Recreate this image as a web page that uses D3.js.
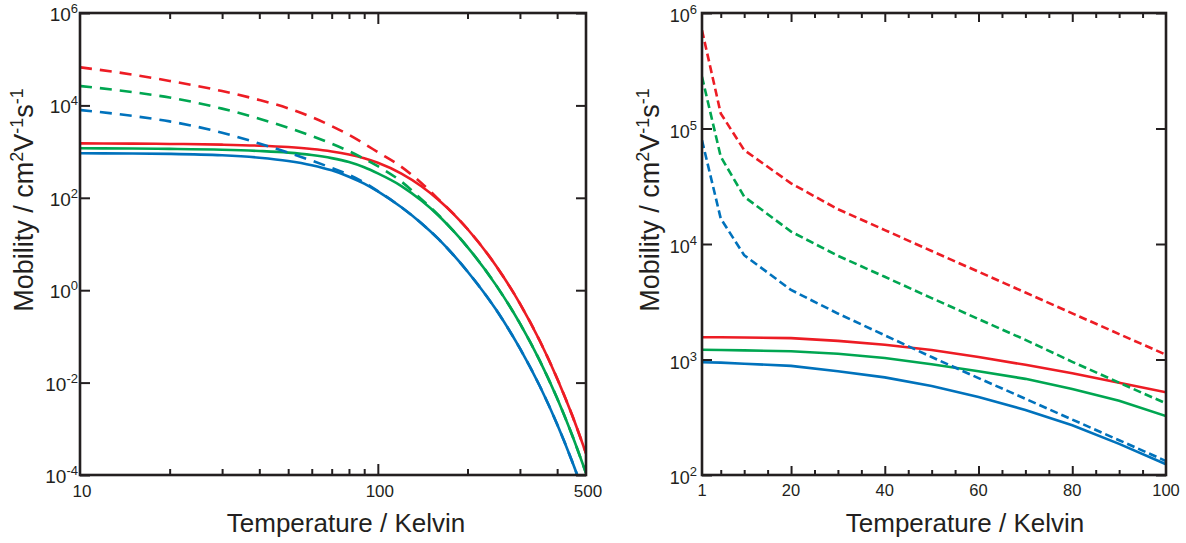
<!DOCTYPE html>
<html><head><meta charset="utf-8">
<script src="https://cdn.jsdelivr.net/npm/d3@7"></script>
<style>
body{margin:0;background:#fff}
svg{display:block}
text{font-family:"Liberation Sans",Arial,Helvetica,sans-serif;fill:#231f20}
</style>
</head><body>
<svg id="c" width="1186" height="543"></svg>
<script>
// ---------- Left panel data (log-log, 10–500 K) ----------
const leftT = [10,15,20,30,40,50,60,70,80,90,100,120,140,160,180,200,250,300,350,400,450,500];
const leftRedSolid   = [1507,1489,1466,1413,1343,1253,1140,1009,865,716,573,334,178,89.7,43.9,21.1,3.30,0.513,0.0794,0.0123,0.00191,0.000295];
const leftGreenSolid = [1183,1164,1143,1096,1030,951,845,723,592,457,337,179.5,87.1,41.0,18.7,8.59,1.256,0.1905,0.0295,0.00457,0.000708,0.000110];
const leftBlueSolid  = [918,908,893,832,738,628,509,393,286,202,137,62.2,28.2,12.7,5.65,2.54,0.371,0.0550,0.00832,0.00126,0.000191,0.0000295];
const leftRedDashed   = [66800,46500,33900,20400,13100,8650,5580,3570,2300,1480,970,468,209,92.3,44.2,21.1,3.30,0.513,0.0794,0.0123,0.00191,0.000295];
const leftGreenDashed = [26300,19400,14800,8510,5140,3290,2180,1480,1020,700,483,224,93.3,42.2,18.7,8.59,1.256,0.1905,0.0295,0.00457,0.000708,0.000110];
const leftBlueDashed  = [7940,5930,4510,2560,1500,951,637,444,316,214,140,62.2,28.2,12.7,5.65,2.54,0.371,0.0550,0.00832,0.00126,0.000191,0.0000295];

// ---------- Right panel data (lin-log, 1–100 K) ----------
const rightT = [1,5,10,20,30,40,50,60,70,80,90,100];
const rightRedDashed   = [710000,135000,65000,33500,20000,13200,8700,5750,3800,2510,1660,1100];
const rightGreenDashed = [280000,57000,25700,12800,7900,5200,3400,2240,1480,955,630,417];
const rightBlueDashed  = [79000,16600,8000,4000,2500,1620,1050,690,457,302,200,132];
const rightRedSolid   = [1560,1560,1550,1530,1450,1340,1210,1050,900,760,630,520];
const rightGreenSolid = [1215,1210,1200,1180,1120,1030,910,790,680,556,440,324];
const rightBlueSolid  = [946,940,920,880,790,700,590,473,366,270,186,124];

// ---------- Tick definitions ----------
const leftXLabels = [10,100,500];
const leftXMajor = [100];
const leftXMinor = [20,30,40,50,60,70,80,90,200,300,400];
const leftYTicks = [1e-4,1e-2,1,1e2,1e4,1e6];
const leftYExp = ["-4","-2","0","2","4","6"];
const rightXLabels = [1,20,40,60,80,100];
const rightXMajor = [20,40,60,80];
const rightXMinor = [5,10,15,25,30,35,45,50,55,65,70,75,85,90,95];
const rightYTicks = [1e2,1e3,1e4,1e5,1e6];
const rightYExp = ["2","3","4","5","6"];

const ink = "#231f20";
const RED = "#ed1c24", GREEN = "#00a651", BLUE = "#0072bc";
const svg = d3.select("#c");

function zip(ts, vs){ return ts.map((t,i)=>({t:t, v:vs[i]})); }

function drawPanel(o){
  const g = svg.append("g");
  const x = o.x, y = o.y;
  const [x0,x1] = x.range(); const [y1,y0] = y.range();
  const cid = "clip"+o.id;
  svg.append("defs").append("clipPath").attr("id",cid)
    .append("rect").attr("x",x0).attr("y",y0).attr("width",x1-x0).attr("height",y1-y0);

  const line = d3.line().x(d=>x(d.t)).y(d=>y(d.v)).curve(o.curve);
  const lg = g.append("g").attr("clip-path",`url(#${cid})`);
  o.series.forEach(s=>{
    lg.append("path").datum(zip(o.T, s.vals))
      .attr("d",line).attr("fill","none").attr("stroke",s.color)
      .attr("stroke-width",2.6)
      .attr("stroke-dasharray", s.dash ? o.dash : null);
  });

  function ax(gen, tr, vals, size){
    const a = g.append("g").attr("transform",tr)
      .call(gen.tickValues(vals).tickSize(size).tickFormat(""));
    a.select(".domain").remove();
    a.selectAll("line").attr("stroke",ink).attr("stroke-width",2);
  }
  ax(d3.axisBottom(x), `translate(0,${y1})`, o.xMinor, -o.minorLen);
  ax(d3.axisBottom(x), `translate(0,${y1})`, o.xMajor, -o.majorLen);
  ax(d3.axisTop(x), `translate(0,${y0})`, o.xMinor, -o.minorLen);
  ax(d3.axisTop(x), `translate(0,${y0})`, o.xMajor, -o.majorLen);
  ax(d3.axisLeft(y), `translate(${x0},0)`, o.yTicks, -o.yLen);
  ax(d3.axisRight(y), `translate(${x1},0)`, o.yTicks, -o.yLen);

  g.append("rect").attr("x",x0).attr("y",y0).attr("width",x1-x0).attr("height",y1-y0)
    .attr("fill","none").attr("stroke",ink).attr("stroke-width",2.6);

  g.selectAll(".xl").data(o.xLabels).enter().append("text")
    .attr("x",d=>x(d)+o.xLabDx).attr("y",o.xLabY).attr("text-anchor","middle")
    .style("font-size",o.xLabFs+"px").text(d=>d);

  o.yTicks.forEach((v,i)=>{
    const t = g.append("text").attr("x",x0+o.yLabDx).attr("y",y(v)+o.yLabDy)
      .attr("text-anchor","end").style("font-size",o.yLabFs+"px");
    t.append("tspan").text("10");
    t.append("tspan").attr("dy",-8).style("font-size",o.yExpFs+"px").text(o.yExp[i]);
  });

  g.append("text").attr("x",o.xTitleX).attr("y",532).attr("text-anchor","middle")
    .style("font-size","26px").text("Temperature / Kelvin");
  const yt = g.append("text").attr("transform",`translate(${o.yTitleX},200) rotate(-90)`)
    .attr("text-anchor","middle").style("font-size","27px");
  yt.append("tspan").text("Mobility / cm");
  yt.append("tspan").attr("dy",-10).style("font-size","18px").text("2");
  yt.append("tspan").attr("dy",10).text("V");
  yt.append("tspan").attr("dy",-10).style("font-size","18px").text("-1");
  yt.append("tspan").attr("dy",10).text("s");
  yt.append("tspan").attr("dy",-10).style("font-size","18px").text("-1");
}

drawPanel({
  id:"L",
  x: d3.scaleLog().domain([10,500]).range([80,586]),
  y: d3.scaleLog().domain([1e-4,1e6]).range([475,13]),
  T: leftT,
  curve: d3.curveMonotoneX,
  dash: "12,8",
  series: [
    {vals:leftBlueSolid,color:BLUE},{vals:leftGreenSolid,color:GREEN},{vals:leftRedSolid,color:RED},
    {vals:leftBlueDashed,color:BLUE,dash:true},{vals:leftGreenDashed,color:GREEN,dash:true},{vals:leftRedDashed,color:RED,dash:true}
  ],
  xMinor:leftXMinor, xMajor:leftXMajor, minorLen:6, majorLen:11,
  yTicks:leftYTicks, yExp:leftYExp, yLen:10,
  xLabels:leftXLabels, xLabY:497, xLabFs:17, xLabDx:2,
  yLabDx:-2, yLabDy:8, yLabFs:19, yExpFs:13,
  xTitleX:346, yTitleX:33
});

drawPanel({
  id:"R",
  x: d3.scaleLinear().domain([1,100]).range([702,1166]),
  y: d3.scaleLog().domain([1e2,1e6]).range([475,13]),
  T: rightT,
  curve: d3.curveLinear,
  dash: "8,4",
  series: [
    {vals:rightBlueSolid,color:BLUE},{vals:rightGreenSolid,color:GREEN},{vals:rightRedSolid,color:RED},
    {vals:rightBlueDashed,color:BLUE,dash:true},{vals:rightGreenDashed,color:GREEN,dash:true},{vals:rightRedDashed,color:RED,dash:true}
  ],
  xMinor:rightXMinor, xMajor:rightXMajor, minorLen:5, majorLen:9,
  yTicks:rightYTicks, yExp:rightYExp, yLen:10,
  xLabels:rightXLabels, xLabY:496, xLabFs:16.5, xLabDx:0,
  yLabDx:-5, yLabDy:9, yLabFs:18, yExpFs:13,
  xTitleX:965, yTitleX:659
});
</script>
</body></html>
